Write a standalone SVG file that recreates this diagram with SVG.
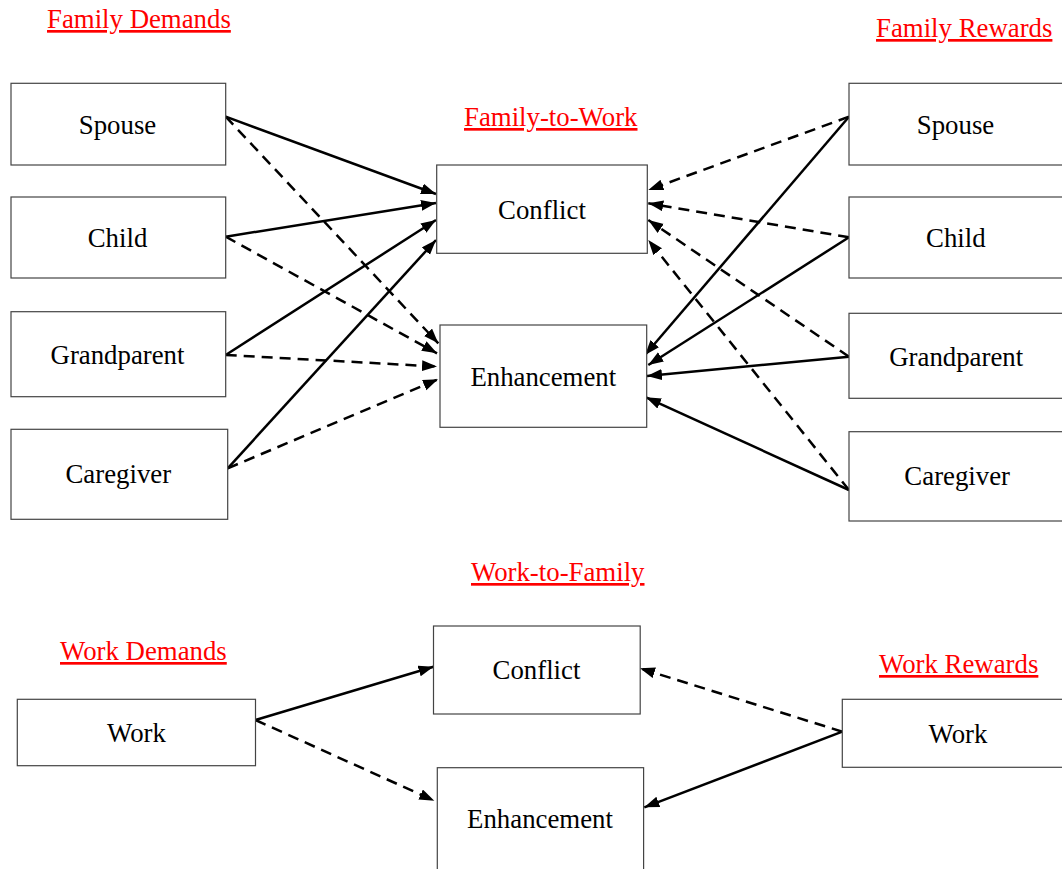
<svg xmlns="http://www.w3.org/2000/svg" width="1062" height="869" viewBox="0 0 1062 869">
<style>
.box{fill:#fff;stroke:#444;stroke-width:1.2}
.t{font-family:"Liberation Serif","Times New Roman",serif;font-size:26.8px;fill:#000;text-anchor:middle}
.lbl{font-family:"Liberation Serif","Times New Roman",serif;font-size:26.8px;fill:#f00;text-decoration:underline}
.s{stroke:#000;stroke-width:2.5;fill:none;marker-end:url(#ah)}
.d{stroke:#000;stroke-width:2.5;fill:none;stroke-dasharray:11 7;marker-end:url(#ah)}
</style>
<defs>
<marker id="ah" markerUnits="userSpaceOnUse" markerWidth="16" markerHeight="12" refX="15" refY="5.5" orient="auto">
<path d="M0,0 L15,5.5 L0,11 z" fill="#000" stroke="none"/>
</marker>
</defs>
<rect width="1062" height="869" fill="#fff"/>
<g id="labels">
<text class="lbl" x="47" y="28">Family Demands</text>
<text class="lbl" x="876" y="37">Family Rewards</text>
<text class="lbl" x="464" y="126">Family-to-Work</text>
<text class="lbl" x="471" y="581">Work-to-Family</text>
<text class="lbl" x="60" y="660">Work Demands</text>
<text class="lbl" x="879" y="673">Work Rewards</text>
</g>
<g id="connectors">
<line class="s" x1="225.7" y1="116.7" x2="436" y2="194"/>
<line class="d" x1="225.7" y1="116.7" x2="438.3" y2="343.3"/>
<line class="s" x1="225.7" y1="236.7" x2="436" y2="203"/>
<line class="d" x1="225.7" y1="236.7" x2="437" y2="353.3"/>
<line class="s" x1="225.7" y1="355" x2="436" y2="220"/>
<line class="d" x1="225.7" y1="355" x2="437" y2="366.5"/>
<line class="s" x1="227.7" y1="468.3" x2="436" y2="240"/>
<line class="d" x1="227.7" y1="468.3" x2="438" y2="379.3"/>
<line class="d" x1="849" y1="116.7" x2="648.3" y2="190"/>
<line class="s" x1="849" y1="116.7" x2="645" y2="355"/>
<line class="d" x1="849" y1="237.3" x2="648.3" y2="203.3"/>
<line class="s" x1="849" y1="237.3" x2="648.3" y2="365"/>
<line class="d" x1="849" y1="356.7" x2="648.3" y2="220"/>
<line class="s" x1="849" y1="356.7" x2="647" y2="376"/>
<line class="d" x1="849" y1="490" x2="648.3" y2="240"/>
<line class="s" x1="849" y1="490" x2="646" y2="397.3"/>
<line class="s" x1="255.5" y1="720" x2="433.5" y2="666.7"/>
<line class="d" x1="255.5" y1="720" x2="434.3" y2="800.7"/>
<line class="d" x1="842.3" y1="731.7" x2="640" y2="668.3"/>
<line class="s" x1="842.3" y1="731.7" x2="644.3" y2="807.3"/>
</g>
<g id="fd-spouse"><rect class="box" x="11" y="83.3" width="214.7" height="81.7"/><text class="t" x="117.5" y="134">Spouse</text></g>
<g id="fd-child"><rect class="box" x="11" y="197" width="214.7" height="81"/><text class="t" x="117.5" y="246.5">Child</text></g>
<g id="fd-grandparent"><rect class="box" x="11" y="311.7" width="214.7" height="85"/><text class="t" x="117.5" y="364">Grandparent</text></g>
<g id="fd-caregiver"><rect class="box" x="11" y="429.3" width="216.7" height="90"/><text class="t" x="118.3" y="483.3">Caregiver</text></g>
<g id="fw-conflict"><rect class="box" x="436.7" y="165" width="210.6" height="88.3"/><text class="t" x="542" y="219">Conflict</text></g>
<g id="fw-enhancement"><rect class="box" x="440" y="325" width="206.7" height="102.3"/><text class="t" x="543.3" y="385.7">Enhancement</text></g>
<g id="fr-spouse"><rect class="box" x="849" y="83.3" width="215" height="81.7"/><text class="t" x="955.5" y="134">Spouse</text></g>
<g id="fr-child"><rect class="box" x="849" y="197" width="215" height="81"/><text class="t" x="955.8" y="246.5">Child</text></g>
<g id="fr-grandparent"><rect class="box" x="849" y="313.3" width="215" height="85"/><text class="t" x="956.2" y="366">Grandparent</text></g>
<g id="fr-caregiver"><rect class="box" x="849" y="431.7" width="215" height="89.3"/><text class="t" x="957.2" y="485">Caregiver</text></g>
<g id="wd-work"><rect class="box" x="17.3" y="699.3" width="238.2" height="66.4"/><text class="t" x="136.5" y="741.7">Work</text></g>
<g id="wf-conflict"><rect class="box" x="433.5" y="626" width="206.7" height="88"/><text class="t" x="536.5" y="679">Conflict</text></g>
<g id="wf-enhancement"><rect class="box" x="437.3" y="767.7" width="206.3" height="104"/><text class="t" x="540" y="828.3">Enhancement</text></g>
<g id="wr-work"><rect class="box" x="842.3" y="699.3" width="232" height="68"/><text class="t" x="958" y="742.7">Work</text></g>
</svg>
